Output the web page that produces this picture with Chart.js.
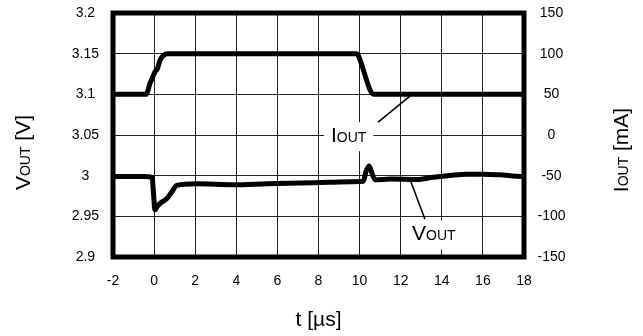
<!DOCTYPE html>
<html><head><meta charset="utf-8">
<script src="https://cdn.jsdelivr.net/npm/chart.js@4"></script>
<style>html,body{margin:0;padding:0;background:#fff;overflow:hidden}#wrap{width:643px;height:336px;position:relative}</style>
</head><body><div id="wrap"><canvas id="c" width="643" height="336"></canvas></div>
<script>
// ---- data ----
const tIout = [-2, -0.39, -0.2, -0.04, 0.04, 0.16, 0.29, 0.45, 0.69, 9.85, 9.95, 10.5, 10.65, 10.8, 18];
const iOut  = [50, 50, 63.5, 73, 77.5, 81.6, 92, 98, 100, 100, 97, 56, 50.5, 50, 50];

const tVout = [-2, -0.5, -0.1, -0.02, 0.04, 0.15, 0.29, 0.61, 0.86, 1.1, 2.07, 3.85, 5.5, 7.1, 8.5, 10.0, 10.18, 10.31, 10.46, 10.59, 10.75, 11.5, 12.78, 13.6, 14.4, 15.2, 16.0, 16.8, 17.9, 18];
const vOut  = [2.999, 2.999, 2.998, 2.975, 2.958, 2.962, 2.966, 2.9716, 2.980, 2.988, 2.990, 2.9888, 2.990, 2.991, 2.9918, 2.9928, 2.993, 3.005, 3.012, 3.004, 2.995, 2.9958, 2.9953, 2.998, 3.0002, 3.0018, 3.0018, 3.001, 2.999, 2.999];

const xTickValues  = [-2, 0, 2, 4, 6, 8, 10, 12, 14, 16, 18];
const xTickLabels  = ['-2', '0', '2', '4', '6', '8', '10', '12', '14', '16', '18'];
const yTickValues  = [2.9, 2.95, 3.0, 3.05, 3.1, 3.15, 3.2];
const yTickLabels  = ['2.9', '2.95', '3', '3.05', '3.1', '3.15', '3.2'];
const y1TickValues = [-150, -100, -50, 0, 50, 100, 150];
const y1TickLabels = ['-150', '-100', '-50', '0', '50', '100', '150'];

// annotation anchors, in data units (t [µs], V)
const ioutLabelAt  = [8.61, 3.0411];
const ioutLeader   = [[10.9, 3.0658], [12.45, 3.0978]];
const voutLabelAt  = [12.55, 2.9204];
const voutLeader   = [[12.45, 2.9956], [13.18, 2.9463]];

const FONT = '"Liberation Sans", Arial, Helvetica, sans-serif';
const BIG = 21, SMALL = 14;

function segsWidth(ctx, segs) {
  let w = 0;
  for (const s of segs) { ctx.font = s.size + 'px ' + FONT; w += ctx.measureText(s.t).width; }
  return w;
}
function drawSegs(ctx, segs, x, y) {
  ctx.textBaseline = 'alphabetic';
  ctx.textAlign = 'left';
  ctx.fillStyle = '#000';
  for (const s of segs) {
    ctx.font = s.size + 'px ' + FONT;
    ctx.fillText(s.t, x, y);
    x += ctx.measureText(s.t).width;
  }
}
const segI = (tail) => [{t: 'I', size: BIG}, {t: 'OUT', size: SMALL}].concat(tail ? [{t: tail, size: BIG}] : []);
const segV = (tail) => [{t: 'V', size: BIG}, {t: 'OUT', size: SMALL}].concat(tail ? [{t: tail, size: BIG}] : []);

const decor = {
  id: 'decor',
  afterDatasetsDraw(chart) {
    const ctx = chart.ctx, x = chart.scales.x, y = chart.scales.y;
    const items = [
      {segs: segI(), at: ioutLabelAt, lead: ioutLeader},
      {segs: segV(), at: voutLabelAt, lead: voutLeader}
    ];
    ctx.save();
    for (const it of items) {
      const px = x.getPixelForValue(it.at[0]), py = y.getPixelForValue(it.at[1]);
      const w = segsWidth(ctx, it.segs);
      ctx.fillStyle = '#fff';
      ctx.fillRect(px - 7, py - 20, w + 14, 29);
      drawSegs(ctx, it.segs, px, py);
      ctx.beginPath();
      ctx.strokeStyle = '#000';
      ctx.lineWidth = 1.6;
      ctx.moveTo(x.getPixelForValue(it.lead[0][0]), y.getPixelForValue(it.lead[0][1]));
      ctx.lineTo(x.getPixelForValue(it.lead[1][0]), y.getPixelForValue(it.lead[1][1]));
      ctx.stroke();
    }
    ctx.restore();
  },
  afterDraw(chart) {
    const ctx = chart.ctx, a = chart.chartArea;
    ctx.save();
    ctx.strokeStyle = '#000';
    ctx.lineWidth = 5;
    ctx.strokeRect(a.left, a.top, a.right - a.left, a.bottom - a.top);
    // left axis title
    let s = segV(' [V]');
    let w = segsWidth(ctx, s);
    ctx.save(); ctx.translate(30, 152.5); ctx.rotate(-Math.PI / 2);
    drawSegs(ctx, s, -w / 2, 0); ctx.restore();
    // right axis title
    s = segI(' [mA]');
    w = segsWidth(ctx, s);
    ctx.save(); ctx.translate(628, 150); ctx.rotate(-Math.PI / 2);
    drawSegs(ctx, s, -w / 2, 0); ctx.restore();
    // x axis title
    s = [{t: 't [\u00B5s]', size: BIG}];
    w = segsWidth(ctx, s);
    drawSegs(ctx, s, (a.left + a.right) / 2 - w / 2, 326);
    ctx.restore();
  }
};

const tickFont = {family: FONT, size: 14};
const setTicks = (vals) => (scale) => { scale.ticks = vals.map(v => ({value: v})); };
const noPad = (s) => { s.paddingTop = 0; s.paddingBottom = 0; s.paddingLeft = 0; s.paddingRight = 0; };

new Chart(document.getElementById('c'), {
  type: 'line',
  data: {
    datasets: [
      {label: 'IOUT', yAxisID: 'y1', data: tIout.map((t, i) => ({x: t, y: iOut[i]})),
       borderColor: '#000', borderWidth: 5, pointRadius: 0, cubicInterpolationMode: 'monotone',
       borderJoinStyle: 'round', borderCapStyle: 'round', fill: false},
      {label: 'VOUT', yAxisID: 'y', data: tVout.map((t, i) => ({x: t, y: vOut[i]})),
       borderColor: '#000', borderWidth: 5, pointRadius: 0, cubicInterpolationMode: 'monotone',
       borderJoinStyle: 'round', borderCapStyle: 'round', fill: false}
    ]
  },
  options: {
    responsive: false, animation: false, devicePixelRatio: 1,
    layout: {padding: {top: 13, left: 0, right: 0, bottom: 0}},
    plugins: {legend: {display: false}, tooltip: {enabled: false}, title: {display: false}},
    scales: {
      x: {type: 'linear', min: -2, max: 18, afterBuildTicks: setTicks(xTickValues),
          afterFit: (s) => { s.height = 79; noPad(s); },
          grid: {color: '#222', lineWidth: 1, drawTicks: false},
          border: {display: false},
          ticks: {font: tickFont, color: '#000', padding: 16, maxRotation: 0, autoSkip: false,
                  callback: (v, i) => xTickLabels[i]}},
      y: {type: 'linear', position: 'left', min: 2.9, max: 3.2, afterBuildTicks: setTicks(yTickValues),
          afterFit: (s) => { s.width = 113; noPad(s); },
          grid: {color: '#222', lineWidth: 1, drawTicks: false},
          border: {display: false},
          ticks: {font: tickFont, color: '#000', padding: 14, crossAlign: 'center', autoSkip: false,
                  callback: (v, i) => yTickLabels[i]}},
      y1: {type: 'linear', position: 'right', min: -150, max: 150, afterBuildTicks: setTicks(y1TickValues),
          afterFit: (s) => { s.width = 119; noPad(s); },
          grid: {display: false, drawTicks: false},
          border: {display: false},
          ticks: {font: tickFont, color: '#000', padding: 13.5, crossAlign: 'center', autoSkip: false,
                  callback: (v, i) => y1TickLabels[i]}}
    }
  },
  plugins: [decor]
});
</script>
</body></html>
